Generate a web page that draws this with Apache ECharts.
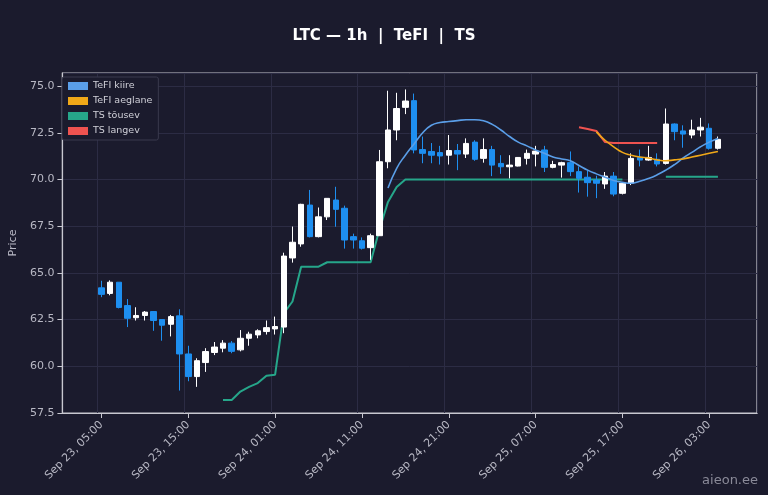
<!DOCTYPE html>
<html><head><meta charset="utf-8">
<script src="https://cdn.jsdelivr.net/npm/echarts@6/dist/echarts.min.js"></script>
<style>html,body{margin:0;padding:0;background:#1b1b2d}#c{width:768px;height:495px}</style>
</head><body><div id="c"></div>
<script>
const startLabel = ["Sep 23, 05:00","Sep 23, 15:00","Sep 24, 01:00","Sep 24, 11:00","Sep 24, 21:00","Sep 25, 07:00","Sep 25, 17:00","Sep 26, 03:00"];
const opens  = [64.2,63.9,64.5,63.25,62.6,62.72,62.93,62.5,62.25,62.7,60.66,59.45,60.2,60.74,60.97,61.24,60.88,61.5,61.68,61.86,62.0,62.1,65.8,66.55,68.63,66.94,68.0,68.9,68.46,66.94,66.72,66.35,66.99,70.95,72.65,73.86,74.22,71.6,71.5,71.44,71.3,71.55,71.36,72.0,71.13,71.6,70.86,70.68,70.72,71.13,71.36,71.58,70.65,70.77,70.9,70.42,70.12,69.97,69.76,70.18,69.26,69.8,71.18,71.04,71.08,70.86,72.97,72.6,72.38,72.65,72.74,71.67];
const closes = [63.85,64.5,63.15,62.57,62.72,62.9,62.45,62.2,62.66,60.66,59.45,60.3,60.79,61.03,61.24,60.8,61.5,61.72,61.9,62.07,62.13,65.9,66.64,68.67,66.94,68.0,68.99,68.4,66.76,66.76,66.32,66.99,70.95,72.65,73.8,74.2,71.58,71.4,71.3,71.26,71.55,71.36,71.93,71.08,71.6,70.77,70.68,70.77,71.18,71.4,71.52,70.65,70.8,70.9,70.42,70.06,69.83,69.8,70.18,69.22,69.8,71.13,71.04,71.18,70.83,72.97,72.56,72.43,72.65,72.8,71.67,72.15];
const lows   = [63.7,63.8,63.1,62.1,62.45,62.45,61.9,61.37,61.6,58.7,59.2,58.9,59.7,60.6,60.75,60.7,60.8,61.1,61.5,61.7,61.7,61.77,65.55,66.4,66.9,66.9,67.83,67.47,66.3,66.3,66.25,65.7,66.99,70.6,72.1,73.5,71.4,70.87,70.87,70.8,70.8,70.5,71.15,71.0,70.9,70.18,70.3,70.06,70.7,70.8,70.7,70.4,70.6,70.1,70.18,69.3,69.08,69.0,69.5,69.1,69.2,69.7,70.7,71.0,70.7,70.8,72.1,71.7,72.2,72.3,71.6,71.6];
const highs  = [64.58,64.6,64.5,63.6,63.16,62.96,62.95,62.5,62.75,63.05,61.1,60.43,60.97,61.3,61.4,61.35,61.94,61.85,61.98,62.45,62.66,66.08,67.48,68.7,69.44,68.5,68.99,69.61,68.6,67.1,66.9,67.1,71.58,74.75,74.64,74.82,74.6,72.3,71.95,71.8,72.38,71.9,72.2,72.1,72.2,71.8,71.3,71.3,71.2,71.6,71.8,71.8,71.0,70.95,71.5,70.7,70.5,70.2,70.4,70.4,69.85,71.4,71.6,71.8,71.4,73.8,73.0,72.9,73.2,73.3,73.0,72.3];
const N = opens.length;
const fast = Array(33).fill(null).concat([69.54,70.6,71.3,71.9,72.5,72.9,73.05,73.1,73.15,73.2,73.2,73.14,72.95,72.65,72.3,72.0,71.8,71.58,71.4,71.2,71.1,71.0,70.75,70.5,70.3,70.12,69.95,69.85,69.8,69.9,70.05,70.25,70.5,70.8,71.15,71.45,71.75,72.0,72.2]);
const slow = Array(57).fill(null).concat([72.55,72.1,71.75,71.45,71.3,71.2,71.15,71.05,71.0,71.05,71.1,71.2,71.3,71.4,71.5]);
const tsDown = Array(55).fill(null).concat([72.8,72.7,72.6,72.0,71.95,71.95,71.95,71.95,71.95,71.95]).concat(Array(7).fill(null));
const tsUp = Array(14).fill(null).concat([58.2,58.2,58.65,58.9,59.1,59.5,59.55,62.84,63.47,65.33,65.33,65.33,65.57,65.57,65.57,65.57,65.57,65.57,67.3,68.8,69.6,70.0,70.0,70.0,70.0,70.0,70.0,70.0,70.0,70.0,70.0,70.0,70.0,70.0,70.0,70.0,70.0,70.0,70.0,70.0,70.0,70.0,70.0,70.0,70.0,70.0,70.0,null,null,null,null,70.15,70.15,70.15,70.15,70.15,70.15,70.15]);

const PAD = 4;
const cats = [];
for (let i = -PAD; i < N + PAD; i++) cats.push(i >= 0 && i < N && i % 10 === 0 ? startLabel[i/10] : 'p' + i);
const pad = a => Array(PAD).fill(null).concat(a, Array(PAD).fill(null));
const candle = pad(opens.map((o,i)=>[o,closes[i],lows[i],highs[i]])).map(v=>v===null?'-':v);
const isTick = (idx) => { const i = idx - PAD; return i >= 0 && i < N && i % 10 === 0; };

const chart = echarts.init(document.getElementById('c'));
chart.setOption({
  backgroundColor:'#1b1b2d',
  animation:false,
  title:{text:'LTC — 1h  |  TeFI  |  TS',left:'center',top:24,textStyle:{color:'#ffffff',fontSize:15,fontWeight:'bold',fontFamily:'DejaVu Sans'}},
  legend:{left:62,top:77,orient:'vertical',itemWidth:20,itemHeight:8,itemGap:5,padding:[4,6],
    backgroundColor:'#1b1b2d',borderColor:'#3a3a4e',borderWidth:1,borderRadius:2,
    textStyle:{color:'#d0d0d8',fontSize:9.5,fontFamily:'DejaVu Sans'},
    data:[{name:'TeFI kiire',icon:'rect'},{name:'TeFI aeglane',icon:'rect'},{name:'TS tõusev',icon:'rect'},{name:'TS langev',icon:'rect'}]},
  graphic:[{type:'text',right:10,bottom:8,style:{text:'aieon.ee',fill:'#8a8a98',fontSize:13,fontFamily:'DejaVu Sans'}}],
  grid:{left:57,right:11,top:73,bottom:82,show:true,borderColor:'#c8c8d0',borderWidth:1.2,backgroundColor:'transparent'},
  xAxis:{type:'category',data:cats,boundaryGap:true,
    axisLine:{lineStyle:{color:'#c8c8d0',width:1.2}},
    axisTick:{show:true,interval:(i)=>isTick(i),alignWithLabel:true,lineStyle:{color:'#c8c8d0'}},
    axisLabel:{interval:(i)=>isTick(i),rotate:45,color:'#b8b8c4',fontSize:11,fontFamily:'DejaVu Sans',margin:10},
    splitLine:{show:true,interval:(i)=>isTick(i),lineStyle:{color:'#2c2c44',width:1}}},
  yAxis:{type:'value',min:57.5,max:75.7,interval:2.5,name:'Price',nameLocation:'middle',nameGap:38,
    nameTextStyle:{color:'#b8b8c4',fontSize:11,fontFamily:'DejaVu Sans'},
    axisLine:{show:true,lineStyle:{color:'#c8c8d0',width:1.2}},axisTick:{show:true,lineStyle:{color:'#c8c8d0'}},
    axisLabel:{color:'#b8b8c4',fontSize:11,fontFamily:'DejaVu Sans',formatter:v=>v.toFixed(1),showMaxLabel:false},
    splitLine:{lineStyle:{color:'#2c2c44'}}},
  series:[
    {type:'candlestick',data:candle,barWidth:6,
      itemStyle:{color:'#ffffff',color0:'#1e8ff0',borderColor:'#ffffff',borderColor0:'#1e8ff0',borderWidth:1},
      z:3},
    {name:'TeFI kiire',type:'line',data:pad(fast),smooth:true,showSymbol:false,lineStyle:{color:'#5a9ee8',width:1.6},itemStyle:{color:'#5a9ee8'},z:4},
    {name:'TeFI aeglane',type:'line',data:pad(slow),smooth:true,showSymbol:false,lineStyle:{color:'#f0a818',width:1.6},itemStyle:{color:'#f0a818'},z:4},
    {name:'TS tõusev',type:'line',data:pad(tsUp),showSymbol:false,lineStyle:{color:'#26a68a',width:2},itemStyle:{color:'#26a68a'},z:2},
    {name:'TS langev',type:'line',data:pad(tsDown),showSymbol:false,lineStyle:{color:'#ef5350',width:2},itemStyle:{color:'#ef5350'},z:2}
  ]
});
</script></body></html>
